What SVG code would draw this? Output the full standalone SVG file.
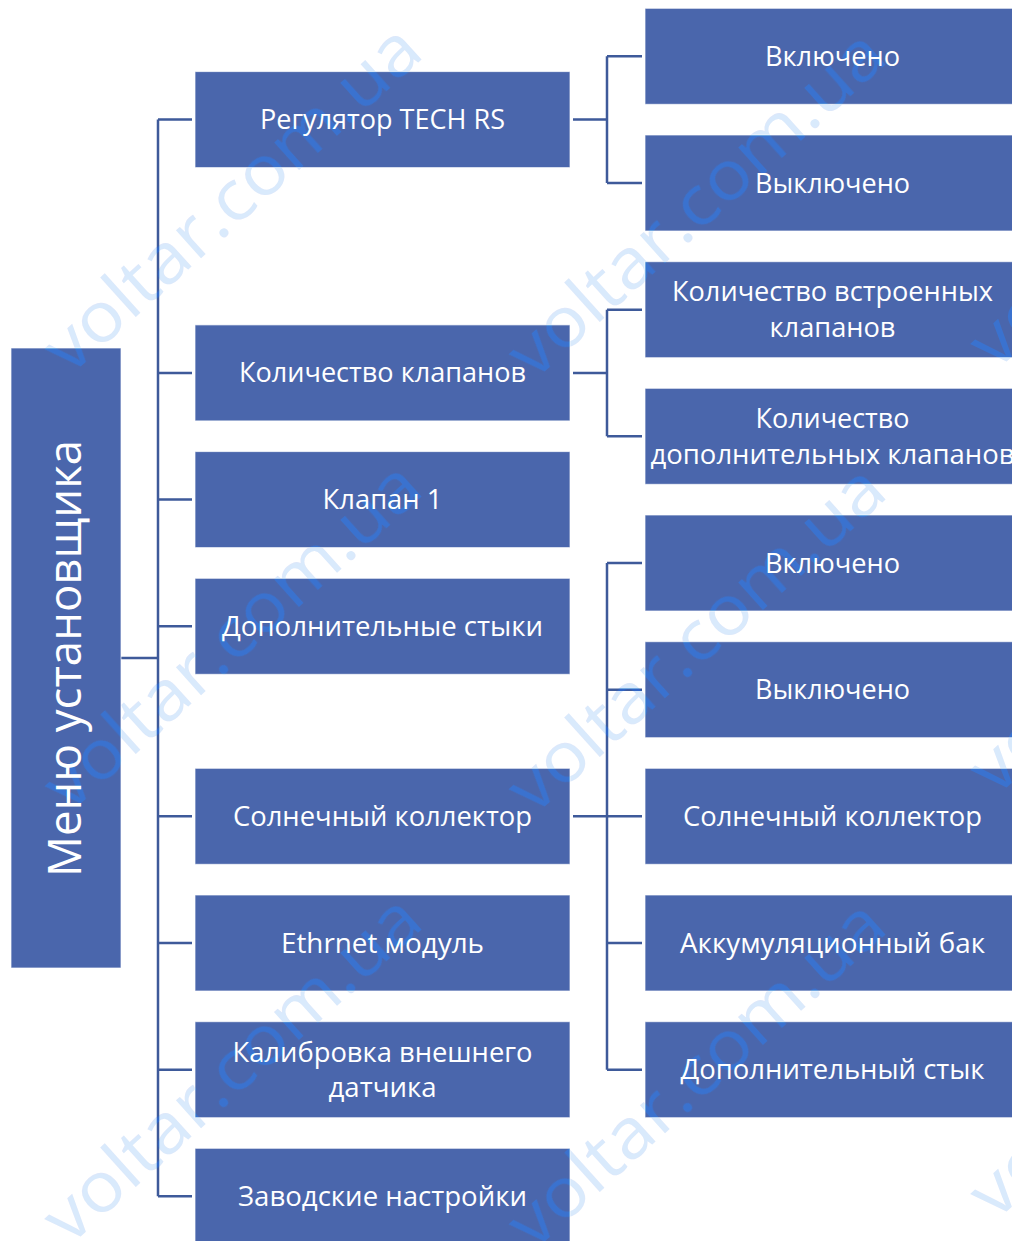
<svg xmlns="http://www.w3.org/2000/svg" xmlns:xlink="http://www.w3.org/1999/xlink" width="1012" height="1241" viewBox="0 0 1012 1241">
<style>
.box { fill: #4A66AC; stroke: #ffffff; stroke-width: 1; stroke-opacity: 0.7; }
.lbl { font-family: "Open Sans", "Noto Sans", "Liberation Sans", sans-serif; font-size: 27px; fill: #ffffff; text-anchor: middle; }
.title { font-family: "Open Sans", "Noto Sans", "Liberation Sans", sans-serif; font-size: 46px; fill: #ffffff; text-anchor: middle; }
.conn { fill: none; stroke: #3E5A9A; stroke-width: 2.5; }
</style>
<defs>
<g id="wm-text" font-family="'Open Sans', 'Noto Sans', 'Liberation Sans', sans-serif" font-size="70" text-anchor="middle">
<text transform="translate(235,202) rotate(-42)" x="0" y="19" textLength="480" lengthAdjust="spacingAndGlyphs">voltar.com.ua</text>
<text transform="translate(235,639) rotate(-42)" x="0" y="19" textLength="480" lengthAdjust="spacingAndGlyphs">voltar.com.ua</text>
<text transform="translate(235,1072) rotate(-42)" x="0" y="19" textLength="480" lengthAdjust="spacingAndGlyphs">voltar.com.ua</text>
<text transform="translate(699,207) rotate(-42)" x="0" y="19" textLength="480" lengthAdjust="spacingAndGlyphs">voltar.com.ua</text>
<text transform="translate(699,642) rotate(-42)" x="0" y="19" textLength="480" lengthAdjust="spacingAndGlyphs">voltar.com.ua</text>
<text transform="translate(699,1077) rotate(-42)" x="0" y="19" textLength="480" lengthAdjust="spacingAndGlyphs">voltar.com.ua</text>
<text transform="translate(1161,197) rotate(-42)" x="0" y="19" textLength="480" lengthAdjust="spacingAndGlyphs">voltar.com.ua</text>
<text transform="translate(1161,623) rotate(-42)" x="0" y="19" textLength="480" lengthAdjust="spacingAndGlyphs">voltar.com.ua</text>
<text transform="translate(1161,1047) rotate(-42)" x="0" y="19" textLength="480" lengthAdjust="spacingAndGlyphs">voltar.com.ua</text>
</g>
</defs>
<rect x="0" y="0" width="1012" height="1241" fill="#ffffff"/>
<use id="watermark-under" xlink:href="#wm-text" href="#wm-text" fill="#E0E7FA"/>
<g id="connectors" class="conn">
<path d="M121 658 H158"/>
<path d="M158 119.6 V1196.3"/>
<path d="M158 119.6 H192 M158 372.9 H192 M158 499.6 H192 M158 626.3 H192 M158 816.3 H192 M158 943 H192 M158 1069.7 H192 M158 1196.3 H192"/>
<path d="M573 119.6 H607 M607 56.3 V183 M607 56.3 H642 M607 183 H642"/>
<path d="M573 372.9 H607 M607 309.7 V436.3 M607 309.7 H642 M607 436.3 H642"/>
<path d="M573 816.3 H607 M607 563 V1069.7 M607 563 H642 M607 689.7 H642 M607 816.3 H642 M607 943 H642 M607 1069.7 H642"/>
</g>
<g id="n-menu"><rect class="box" x="11" y="348" width="110" height="620"/><text class="title" transform="translate(81,658.5) rotate(-90)" x="0" y="0" textLength="437" lengthAdjust="spacingAndGlyphs">Меню установщика</text></g>
<g id="n-regulator"><rect class="box" x="195" y="71.6" width="375" height="96"/><text class="lbl" x="382.5" y="129" textLength="245" lengthAdjust="spacingAndGlyphs">Регулятор TECH RS</text></g>
<g id="n-valves-count"><rect class="box" x="195" y="324.9" width="375" height="96"/><text class="lbl" x="382.5" y="382.4" textLength="287" lengthAdjust="spacingAndGlyphs">Количество клапанов</text></g>
<g id="n-valve1"><rect class="box" x="195" y="451.6" width="375" height="96"/><text class="lbl" x="382.5" y="509.1" textLength="120" lengthAdjust="spacingAndGlyphs">Клапан 1</text></g>
<g id="n-add-contacts"><rect class="box" x="195" y="578.3" width="375" height="96"/><text class="lbl" x="382.5" y="635.8" textLength="321" lengthAdjust="spacingAndGlyphs">Дополнительные стыки</text></g>
<g id="n-solar"><rect class="box" x="195" y="768.3" width="375" height="96"/><text class="lbl" x="382.5" y="825.8" textLength="299" lengthAdjust="spacingAndGlyphs">Солнечный коллектор</text></g>
<g id="n-ethernet"><rect class="box" x="195" y="895" width="375" height="96"/><text class="lbl" x="382.5" y="952.5" textLength="203" lengthAdjust="spacingAndGlyphs">Ethrnet модуль</text></g>
<g id="n-calibration"><rect class="box" x="195" y="1021.7" width="375" height="96"/><text class="lbl" x="382.5" y="1061.5" textLength="300" lengthAdjust="spacingAndGlyphs">Калибровка внешнего</text><text class="lbl" x="382.5" y="1097" textLength="108" lengthAdjust="spacingAndGlyphs">датчика</text></g>
<g id="n-factory"><rect class="box" x="195" y="1148.3" width="375" height="96"/><text class="lbl" x="382.5" y="1205.8" textLength="289" lengthAdjust="spacingAndGlyphs">Заводские настройки</text></g>
<g id="n-on1"><rect class="box" x="645" y="8.3" width="375" height="96"/><text class="lbl" x="832.5" y="65.8" textLength="135" lengthAdjust="spacingAndGlyphs">Включено</text></g>
<g id="n-off1"><rect class="box" x="645" y="135" width="375" height="96"/><text class="lbl" x="832.5" y="192.5" textLength="155" lengthAdjust="spacingAndGlyphs">Выключено</text></g>
<g id="n-builtin-valves"><rect class="box" x="645" y="261.7" width="375" height="96"/><text class="lbl" x="832.5" y="300.5" textLength="321" lengthAdjust="spacingAndGlyphs">Количество встроенных</text><text class="lbl" x="832.5" y="336.5" textLength="126" lengthAdjust="spacingAndGlyphs">клапанов</text></g>
<g id="n-add-valves"><rect class="box" x="645" y="388.3" width="375" height="96"/><text class="lbl" x="832.5" y="427.5" textLength="154" lengthAdjust="spacingAndGlyphs">Количество</text><text class="lbl" x="832.5" y="463.5" textLength="364" lengthAdjust="spacingAndGlyphs">дополнительных клапанов</text></g>
<g id="n-on2"><rect class="box" x="645" y="515" width="375" height="96"/><text class="lbl" x="832.5" y="572.5" textLength="135" lengthAdjust="spacingAndGlyphs">Включено</text></g>
<g id="n-off2"><rect class="box" x="645" y="641.7" width="375" height="96"/><text class="lbl" x="832.5" y="699.2" textLength="155" lengthAdjust="spacingAndGlyphs">Выключено</text></g>
<g id="n-solar2"><rect class="box" x="645" y="768.3" width="375" height="96"/><text class="lbl" x="832.5" y="825.8" textLength="299" lengthAdjust="spacingAndGlyphs">Солнечный коллектор</text></g>
<g id="n-buffer"><rect class="box" x="645" y="895" width="375" height="96"/><text class="lbl" x="832.5" y="952.5" textLength="305" lengthAdjust="spacingAndGlyphs">Аккумуляционный бак</text></g>
<g id="n-add-contact"><rect class="box" x="645" y="1021.7" width="375" height="96"/><text class="lbl" x="832.5" y="1079.2" textLength="304" lengthAdjust="spacingAndGlyphs">Дополнительный стык</text></g>
<use id="watermark-over" xlink:href="#wm-text" href="#wm-text" fill="#648FB6" style="mix-blend-mode: overlay"/>
</svg>
